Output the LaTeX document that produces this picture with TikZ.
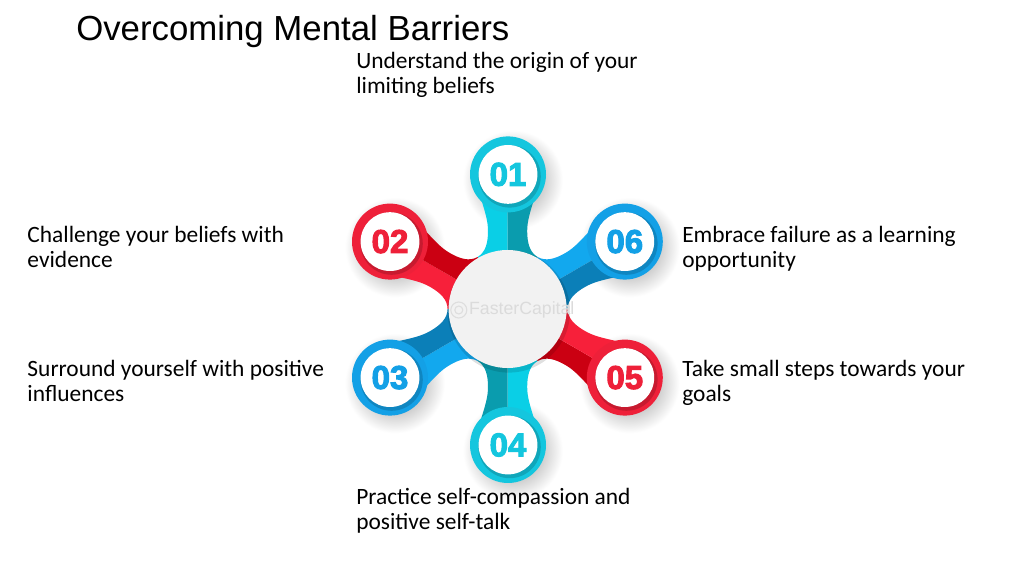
\documentclass[tikz,border=0pt]{standalone}
\usepackage{fontspec}
\setmainfont{Carlito}
\newfontfamily\titlefont{Liberation Sans}
\newfontfamily\numfont[FakeBold=3]{Liberation Sans Bold}

\definecolor{cyanlight}{HTML}{0ACFE6}
\definecolor{cyandark}{HTML}{0A9CAE}
\definecolor{cyanring}{HTML}{14C6DE}
\definecolor{redlight}{HTML}{F7203A}
\definecolor{reddark}{HTML}{CB0012}
\definecolor{redring}{HTML}{EE2039}
\definecolor{bluelight}{HTML}{12A8EE}
\definecolor{bluedark}{HTML}{0B7FB8}
\definecolor{bluering}{HTML}{13A0E6}

\tikzset{
  armleft/.style={insert path={(0, 0) -- (-0.75, 1.3)
      .. controls (-0.55, 1.42) and (-0.49, 1.65) .. (-0.49, 1.95)
      .. controls (-0.49, 2.2) and (-0.56, 2.42) .. (-0.68, 2.8)
      -- (0, 2.8) -- cycle}},
  armright/.style={insert path={(0, 0) -- (0.75, 1.3)
      .. controls (0.55, 1.42) and (0.49, 1.65) .. (0.49, 1.95)
      .. controls (0.49, 2.2) and (0.56, 2.42) .. (0.68, 2.8)
      -- (0, 2.8) -- cycle}},
  softshadow/.style={inner color=black!48, outer color=white},
  numdisc/.style={circle, fill=white, minimum size=1.47cm, inner sep=0pt,
                  font=\numfont\fontsize{23.5}{24}\selectfont},
  caption/.style={anchor=west, align=left, inner sep=0pt,
                  font=\fontsize{16.65}{17.8}\selectfont},
}

\begin{document}
\begin{tikzpicture}
    \useasboundingbox (0, 0) rectangle (25.6, 14.4);
    \fill[white] (0, 0) rectangle (25.6, 14.4);

    \coordinate (hub) at (12.69, 6.675);
    \coordinate (c01) at (12.7, 10.04);
    \coordinate (c02) at (9.75, 8.36);
    \coordinate (c03) at (9.75, 4.96);
    \coordinate (c04) at (12.7, 3.275);
    \coordinate (c05) at (15.62, 4.96);
    \coordinate (c06) at (15.62, 8.36);

    \shade[softshadow] ([shift={(0.12, -0.14)}]c01) circle (1.25);
    \shade[softshadow] ([shift={(0.12, -0.14)}]c02) circle (1.25);
    \shade[softshadow] ([shift={(0.12, -0.14)}]c03) circle (1.25);
    \shade[softshadow] ([shift={(0.12, -0.14)}]c04) circle (1.25);
    \shade[softshadow] ([shift={(0.12, -0.14)}]c05) circle (1.25);
    \shade[softshadow] ([shift={(0.12, -0.14)}]c06) circle (1.25);

    \fill[cyanlight, shift={(hub)}, rotate=0, armleft];
    \fill[cyandark, shift={(hub)}, rotate=0, armright];
    \fill[redlight, shift={(hub)}, rotate=60, armleft];
    \fill[reddark, shift={(hub)}, rotate=60, armright];
    \fill[bluelight, shift={(hub)}, rotate=120, armleft];
    \fill[bluedark, shift={(hub)}, rotate=120, armright];
    \fill[cyanlight, shift={(hub)}, rotate=180, armleft];
    \fill[cyandark, shift={(hub)}, rotate=180, armright];
    \fill[reddark, shift={(hub)}, rotate=240, armright];
    \fill[redlight, shift={(hub)}, rotate=240, armleft];
    \fill[bluelight, shift={(hub)}, rotate=300, armleft];
    \fill[bluedark, shift={(hub)}, rotate=300, armright];

    \fill[black, opacity=0.12] ([shift={(0.03, -0.06)}]hub) circle (1.53);
    \fill[black!5] (hub) circle (1.475);

    % watermark on the hub
    \draw[black!13, thick] (11.47, 6.65) circle (0.2);
    \draw[black!13, thick] (11.47, 6.65) circle (0.1);
    \node[text=black!14, anchor=west, inner sep=0pt,
          font=\titlefont\fontsize{12.6}{13}\selectfont]
      (mark) at (11.72, 6.65) {FasterCapital};

    \fill[cyanring] (c01) circle (0.95);
    \fill[redring] (c02) circle (0.95);
    \fill[bluering] (c03) circle (0.95);
    \fill[cyanring] (c04) circle (0.95);
    \fill[redring] (c05) circle (0.95);
    \fill[bluering] (c06) circle (0.95);

    \fill[black, opacity=0.16] ([shift={(0.04, -0.05)}]c01) circle (0.78);
    \fill[black, opacity=0.16] ([shift={(0.04, -0.05)}]c02) circle (0.78);
    \fill[black, opacity=0.16] ([shift={(0.04, -0.05)}]c03) circle (0.78);
    \fill[black, opacity=0.16] ([shift={(0.04, -0.05)}]c04) circle (0.78);
    \fill[black, opacity=0.16] ([shift={(0.04, -0.05)}]c05) circle (0.78);
    \fill[black, opacity=0.16] ([shift={(0.04, -0.05)}]c06) circle (0.78);

    \node[numdisc, text=cyanring] (n01) at (c01) {01};
    \node[numdisc, text=redring] (n02) at (c02) {02};
    \node[numdisc, text=bluering] (n03) at (c03) {03};
    \node[numdisc, text=cyanring] (n04) at (c04) {04};
    \node[numdisc, text=redring] (n05) at (c05) {05};
    \node[numdisc, text=bluering] (n06) at (c06) {06};

    \node[anchor=west, inner sep=0pt, font=\titlefont\fontsize{24.75}{25}\selectfont]
      (title) at (1.9, 13.62) {Overcoming Mental Barriers};
    \node[caption] (t01) at (8.9, 12.53)
      {Understand the origin of your\\limiting beliefs};
    \node[caption] (t02) at (0.68, 8.22)
      {Challenge your beliefs with\\evidence};
    \node[caption] (t03) at (0.68, 4.875)
      {Surround yourself with positive\\influences};
    \node[caption] (t04) at (8.9, 1.625)
      {Practice self-compassion and\\positive self-talk};
    \node[caption] (t05) at (17.05, 4.825)
      {Take small steps towards your\\goals};
    \node[caption] (t06) at (17.05, 8.175)
      {Embrace failure as a learning\\opportunity};
\end{tikzpicture}
\end{document}
